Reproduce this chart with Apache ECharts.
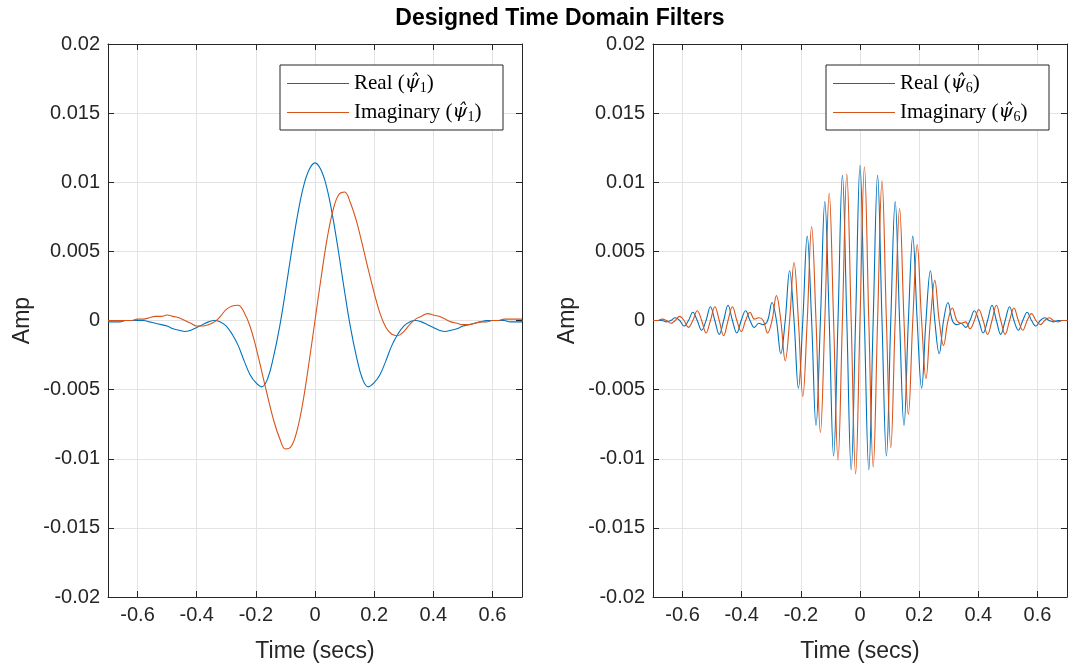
<!DOCTYPE html>
<html><head><meta charset="utf-8">
<script src="https://cdn.jsdelivr.net/npm/echarts@6/dist/echarts.min.js"></script>
<style>html,body{margin:0;padding:0;background:#fff}#c{width:1077px;height:663px}</style>
</head><body><div id="c"></div>
<script>
// ---------- data ----------
const chartTitle = 'Designed Time Domain Filters';
const xTickValues = [-0.6, -0.4, -0.2, 0, 0.2, 0.4, 0.6];

// left subplot (psi_1)
const leftTime = [-0.70,-0.68,-0.66,-0.64,-0.62,-0.60,-0.58,-0.56,-0.54,-0.52,-0.50,-0.48,-0.46,-0.44,-0.42,-0.40,-0.38,-0.36,-0.34,-0.32,-0.30,-0.28,-0.26,-0.24,-0.22,-0.20,-0.18,-0.16,-0.14,-0.12,-0.10,-0.08,-0.06,-0.04,-0.02,0,
  0.02,0.04,0.06,0.08,0.10,0.12,0.14,0.16,0.18,0.20,0.22,0.24,0.26,0.28,0.30,0.32,0.34,0.36,0.38,0.40,0.42,0.44,0.46,0.48,0.50,0.52,0.54,0.56,0.58,0.60,0.62,0.64,0.66,0.68,0.70];
const leftReal = [-0.0001,-0.0001,-0.0001,0,0,0,0,-0.0001,-0.0002,-0.0003,-0.0004,-0.0006,-0.0007,-0.0008,-0.0007,-0.0005,-0.0003,-0.0001,0,-0.0001,-0.0004,-0.0010,-0.0018,-0.0029,-0.0039,-0.0045,-0.0048,-0.0042,-0.0026,-0.0005,0.0021,0.0049,0.0075,0.0096,0.0109,0.0114,
  0.0109,0.0096,0.0075,0.0049,0.0021,-0.0005,-0.0026,-0.0042,-0.0048,-0.0045,-0.0039,-0.0029,-0.0018,-0.0010,-0.0004,-0.0001,0,-0.0001,-0.0003,-0.0005,-0.0007,-0.0008,-0.0007,-0.0006,-0.0004,-0.0003,-0.0002,-0.0001,0,0,0,0,-0.0001,-0.0001,-0.0001];
const leftImag = [0,0,0,0,0,0.0001,0.0001,0.0002,0.0003,0.0003,0.0004,0.0003,0.0002,0,-0.0002,-0.0004,-0.0004,-0.0003,-0.0001,0.0003,0.0008,0.00105,0.0011,0.0006,-0.0004,-0.0019,-0.0037,-0.0055,-0.0072,-0.0085,-0.0093,-0.0091,-0.0079,-0.0058,-0.0030,0,
  0.0030,0.0058,0.0079,0.0091,0.0093,0.0085,0.0072,0.0055,0.0037,0.0020,0.0005,-0.0005,-0.0010,-0.0011,-0.0008,-0.0003,0.0001,0.0003,0.0005,0.0004,0.0003,0.0001,-0.0001,-0.0002,-0.0003,-0.0003,-0.0002,-0.0001,-0.0001,0,0,0.0001,0.0001,0.0001,0.0001];

// right subplot (psi_6)
const rightTime = [-0.6991,-0.6843,-0.6694,-0.6545,-0.6396,-0.6248,-0.6099,-0.5950,-0.5801,-0.5653,-0.5504,-0.5355,-0.5206,-0.5058,-0.4909,-0.4760,-0.4611,-0.4463,-0.4314,-0.4165,-0.4016,-0.3868,-0.3719,-0.3570,-0.3421,-0.3273,-0.3124,-0.2975,-0.2826,-0.2678,-0.2529,-0.2380,-0.2231,-0.2083,-0.1934,-0.1785,-0.1636,-0.1488,-0.1339,-0.1190,-0.1041,-0.0893,-0.0744,-0.0595,-0.0446,-0.0298,-0.0149,0,
  0.0149,0.0298,0.0446,0.0595,0.0744,0.0893,0.1041,0.1190,0.1339,0.1488,0.1636,0.1785,0.1934,0.2083,0.2231,0.2380,0.2529,0.2678,0.2826,0.2975,0.3124,0.3273,0.3421,0.3570,0.3719,0.3868,0.4016,0.4165,0.4314,0.4463,0.4611,0.4760,0.4909,0.5058,0.5206,0.5355,0.5504,0.5653,0.5801,0.5950,0.6099,0.6248,0.6396,0.6545,0.6694,0.6843,0.6991];
const rightReal = [0,0,0,-0.0001,0,0.0002,0,-0.0004,0,0.0006,0,-0.0007,0,0.0010,0,-0.0010,0,0.0011,0,-0.0009,0,0.0007,0,-0.0005,-0.0002,-0.0003,0,0.0013,0,-0.0024,0,0.0036,0,-0.0049,0,0.0061,0,-0.0076,0,0.0086,0,-0.0098,0,0.0105,0,-0.0108,0,0.0112,
  0,-0.0108,0,0.0105,0,-0.0098,0,0.0086,0,-0.0076,0,0.0061,0,-0.0049,0,0.0036,0,-0.0024,0,0.0013,0,-0.0003,-0.0002,-0.0005,0,0.0007,0,-0.0009,0,0.0011,0,-0.0010,0,0.0010,0,-0.0007,0,0.0006,0,-0.0004,0,0.0002,0,-0.0001,0,0,0];
const rightImag = [0,0,0.0001,0,-0.0002,0,0.0003,0,-0.0005,0,0.0007,0,-0.0009,0,0.0010,0,-0.0011,0,0.0010,0,-0.0008,0,0.0006,0.0001,0.0002,0,-0.0009,0,0.0018,0,-0.0029,0,0.0042,0,-0.0055,0,0.0068,0,-0.0081,0,0.0092,0,-0.0101,0,0.0106,0,-0.0111,0,
  0.0111,0,-0.0106,0,0.0101,0,-0.0092,0,0.0081,0,-0.0068,0,0.0055,0,-0.0042,0,0.0029,0,-0.0018,0,0.0009,0,-0.0002,-0.0001,-0.0006,0,0.0008,0,-0.0010,0,0.0011,0,-0.0010,0,0.0009,0,-0.0007,0,0.0005,0,-0.0003,0,0.0002,0,-0.0001,0,0];

const seriesNames = {
  r1: ['Real', '1'], i1: ['Imaginary', '1'],
  r6: ['Real', '6'], i6: ['Imaginary', '6']
};

// ---------- chart ----------
const AX = '#262626';
const GRIDC = '#e3e3e3';
const BLUE = '#0072BD', ORANGE = '#D95319';
const SANS = 'Liberation Sans, Arial, sans-serif';
const SERIF = 'Liberation Serif, Times New Roman, serif';
const GSERIF = 'DejaVu Serif, serif';

function pairs(t, v) { return t.map((x, i) => [x, v[i]]); }

const grids = [
  { left: 108, top: 44, width: 414, height: 553, outerBoundsMode: 'none', containLabel: false },
  { left: 653, top: 44, width: 414, height: 553, outerBoundsMode: 'none', containLabel: false }
];

const xAxes = [], yAxes = [];
grids.forEach((g, gi) => {
  ['bottom', 'top'].forEach(pos => {
    const main = pos === 'bottom';
    xAxes.push({
      gridIndex: gi, type: 'value', min: -0.7, max: 0.7, position: pos,
      name: main ? 'Time (secs)' : '', nameLocation: 'middle', nameGap: 43,
      nameTextStyle: { fontFamily: SANS, fontSize: 23, color: AX },
      axisLine: { show: true, onZero: false, lineStyle: { color: AX, width: 1 } },
      axisTick: { show: true, inside: true, length: 6, customValues: xTickValues, lineStyle: { color: AX, width: 1 } },
      axisLabel: { show: main, customValues: xTickValues, color: AX, fontFamily: SANS, fontSize: 20, margin: 8 },
      splitLine: { show: main, lineStyle: { color: GRIDC, width: 1 } }
    });
  });
  ['left', 'right'].forEach(pos => {
    const main = pos === 'left';
    yAxes.push({
      gridIndex: gi, type: 'value', min: -0.02, max: 0.02, interval: 0.005, position: pos,
      name: main ? 'Amp' : '', nameLocation: 'middle', nameGap: 74,
      nameTextStyle: { fontFamily: SANS, fontSize: 23, color: AX },
      axisLine: { show: true, onZero: false, lineStyle: { color: AX, width: 1 } },
      axisTick: { show: true, inside: true, length: 6, lineStyle: { color: AX, width: 1 } },
      axisLabel: { show: main, color: AX, fontFamily: SANS, fontSize: 20, margin: 8 },
      splitLine: { show: main, lineStyle: { color: GRIDC, width: 1 } }
    });
  });
});

function lineSeries(id, gi, t, v, color) {
  return {
    name: id, type: 'line', xAxisIndex: gi * 2, yAxisIndex: gi * 2,
    data: pairs(t, v), showSymbol: false, symbol: 'none', smooth: 0.4,
    lineStyle: { color: color, width: 1.1 }, itemStyle: { color: color },
    animation: false, z: 3
  };
}

const rich = {
  t: { fontFamily: SERIF, fontSize: 21, lineHeight: 22, color: '#000' },
  g: { fontFamily: GSERIF, fontSize: 19, lineHeight: 22, fontStyle: 'italic', color: '#000' },
  s: { fontFamily: SERIF, fontSize: 14, lineHeight: 22, color: '#000', padding: [9, 0, 0, 0] }
};
function legendFmt(n) {
  const p = seriesNames[n];
  return '{t|' + p[0] + ' (}{g|\u03C8\u0302}{s|' + p[1] + '}{t|)}';
}
function legendDef(left, names) {
  return {
    orient: 'vertical', left: left, top: 65, padding: [7, 8, 6, 7], itemGap: 6,
    itemWidth: 62, itemHeight: 1, icon: 'rect', backgroundColor: '#fff', borderColor: AX, borderWidth: 1,
    borderRadius: 0, selectedMode: false, data: names, formatter: legendFmt,
    textStyle: { rich: rich, fontFamily: SERIF, fontSize: 21, lineHeight: 22, color: '#000', width: 141 }
  };
}

const option = {
  backgroundColor: '#fff',
  animation: false,
  graphic: [{
    type: 'text', x: 560, y: 19,
    style: { text: chartTitle, font: 'bold 23px ' + SANS, fill: '#000', textAlign: 'center', textVerticalAlign: 'middle' }
  }],
  legend: [legendDef(280, ['r1', 'i1']), legendDef(826, ['r6', 'i6'])],
  grid: grids,
  xAxis: xAxes,
  yAxis: yAxes,
  series: [
    lineSeries('r1', 0, leftTime, leftReal, BLUE),
    lineSeries('i1', 0, leftTime, leftImag, ORANGE),
    lineSeries('r6', 1, rightTime, rightReal, BLUE),
    lineSeries('i6', 1, rightTime, rightImag, ORANGE)
  ]
};
const chart = echarts.init(document.getElementById('c'));
chart.setOption(option);
</script></body></html>
